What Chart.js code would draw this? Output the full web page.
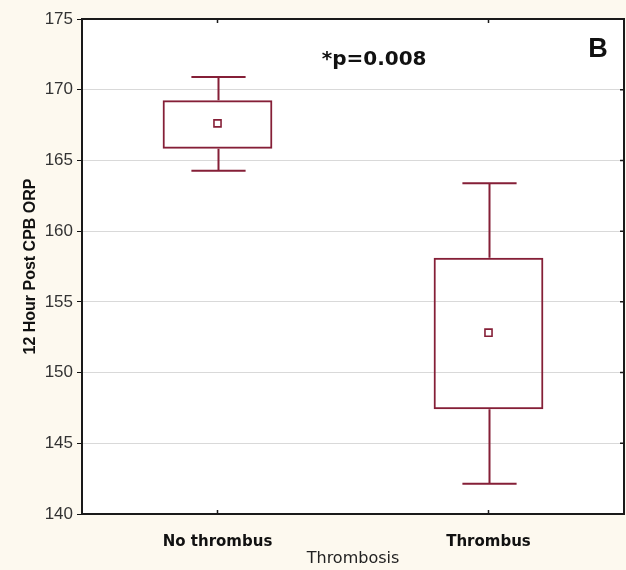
<!DOCTYPE html>
<html>
<head>
<meta charset="utf-8">
<script src="https://cdn.jsdelivr.net/npm/chart.js@4"></script>
<style>
html,body{margin:0;padding:0;background:#fdf9ef;}
#wrap{width:626px;height:570px;}
</style>
</head>
<body>
<div id="wrap"><canvas id="c" width="626" height="570"></canvas></div>
<script>
const categories = ['No thrombus', 'Thrombus'];
const whiskerMin = [164.27, 142.14];
const q1 = [165.83, 147.40];
const meanVals = [167.62, 152.82];
const q3 = [169.25, 158.12];
const whiskerMax = [170.90, 163.38];
const yTicks = [140, 145, 150, 155, 160, 165, 170, 175];
const yTitle = '12 Hour Post CPB ORP';
const xTitle = 'Thrombosis';
const pText = '*p=0.008';
const panelLetter = 'B';

const BOX = '#851f37';
const CREAM = '#fdf9ef';

const boxPlugin = {
  id: 'boxPlugin',
  beforeDraw(chart) {
    const {ctx, chartArea: a} = chart;
    ctx.save();
    ctx.fillStyle = CREAM;
    ctx.fillRect(0, 0, chart.width, chart.height);
    ctx.fillStyle = '#ffffff';
    ctx.fillRect(a.left, a.top, a.right - a.left, a.bottom - a.top);
    ctx.restore();
  },
  afterDatasetsDraw(chart) {
    const {ctx, chartArea: a, scales: {x, y}} = chart;
    const catW = (a.right - a.left) / categories.length;
    ctx.save();
    ctx.strokeStyle = BOX;
    ctx.lineWidth = 2;
    categories.forEach((c, i) => {
      const cx = Math.round(x.getPixelForValue(i)) + 0.5;
      const half = catW * 0.1;
      const pts = [[q3[i], whiskerMax[i]], [q1[i], whiskerMin[i]]];
      pts.forEach(([from, to]) => {
        const y0 = y.getPixelForValue(from), y1 = y.getPixelForValue(to);
        ctx.beginPath();
        ctx.moveTo(cx, y0); ctx.lineTo(cx, y1);
        ctx.moveTo(cx - half, y1); ctx.lineTo(cx + half, y1);
        ctx.stroke();
      });
    });
    ctx.restore();
  },
  afterDraw(chart) {
    const {ctx, chartArea: a, scales: {x, y}} = chart;
    ctx.save();
    // frame
    ctx.strokeStyle = '#1a1a1a';
    ctx.lineWidth = 2;
    ctx.strokeRect(a.left, a.top, a.right - a.left, a.bottom - a.top);
    // inner ticks
    ctx.lineWidth = 1.5;
    ctx.beginPath();
    categories.forEach((c, i) => {
      const px = x.getPixelForValue(i);
      ctx.moveTo(px, a.top); ctx.lineTo(px, a.top + 4);
      ctx.moveTo(px, a.bottom); ctx.lineTo(px, a.bottom - 4);
    });
    yTicks.forEach(v => {
      const py = y.getPixelForValue(v);
      ctx.moveTo(a.right, py); ctx.lineTo(a.right - 4, py);
    });
    ctx.stroke();
    // annotations
    ctx.fillStyle = '#111';
    ctx.textBaseline = 'alphabetic';
    ctx.textAlign = 'center';
    ctx.font = 'bold 20px "DejaVu Sans"';
    ctx.fillText(pText, a.left + (a.right - a.left) * 0.539, y.getPixelForValue(171.75));
    ctx.font = 'bold 27px "Liberation Sans"';
    ctx.fillText(panelLetter, a.right - 26, y.getPixelForValue(172.3));
    ctx.restore();
  }
};

new Chart(document.getElementById('c'), {
  data: {
    labels: categories,
    datasets: [
      {
        type: 'bar',
        data: q1.map((v, i) => [v, q3[i]]),
        backgroundColor: 'rgba(255,255,255,0)',
        borderColor: BOX,
        borderWidth: 2,
        borderSkipped: false,
        barPercentage: 0.405,
        categoryPercentage: 1.0,
        order: 2
      },
      {
        type: 'line',
        data: meanVals,
        showLine: false,
        pointStyle: 'rect',
        pointRadius: 5,
        pointBackgroundColor: '#ffffff',
        pointBorderColor: BOX,
        pointBorderWidth: 1.6,
        order: 1
      }
    ]
  },
  plugins: [boxPlugin],
  options: {
    responsive: false,
    animation: false,
    devicePixelRatio: 1,
    layout: {autoPadding: false, padding: {top: 19, right: 2, left: 0, bottom: 0}},
    plugins: {legend: {display: false}, tooltip: {enabled: false}},
    scales: {
      x: {
        type: 'category',
        offset: true,
        grid: {display: false, drawTicks: false},
        border: {display: false},
        ticks: {
          color: '#111',
          padding: 19,
          font: {family: '"DejaVu Sans"', size: 15, weight: 'bold'}
        },
        title: {
          display: true,
          text: xTitle,
          color: '#222',
          font: {family: '"DejaVu Sans"', size: 16},
          padding: {top: 0, bottom: 2}
        },
        afterFit(s) { s.height = 56; s.paddingLeft = 0; s.paddingRight = 0; }
      },
      y: {
        min: 140,
        max: 175,
        afterBuildTicks(s) { s.ticks = yTicks.map(v => ({value: v})); },
        grid: {color: '#d9d9d9', lineWidth: 1, tickColor: '#111', tickLength: 5, drawTicks: true},
        border: {display: false},
        ticks: {
          color: '#333',
          padding: 4,
          font: {family: '"Liberation Sans"', size: 17}
        },
        title: {
          display: true,
          text: yTitle,
          color: '#111',
          font: {family: '"Liberation Sans"', size: 16, weight: 'bold'},
          padding: {top: 21, bottom: 0}
        },
        afterFit(s) { s.width = 82; }
      }
    }
  }
});
</script>
</body>
</html>
